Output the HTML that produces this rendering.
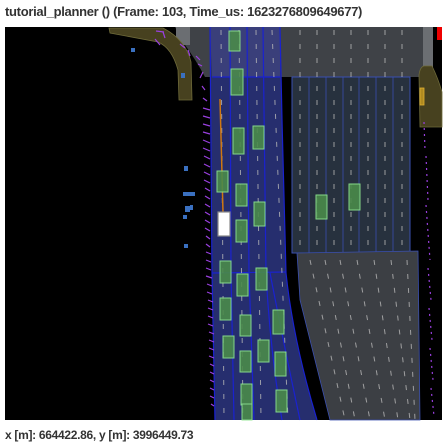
<!DOCTYPE html>
<html><head><meta charset="utf-8"><style>
html,body{margin:0;padding:0;background:#fff;width:447px;height:447px;overflow:hidden}
.t{position:absolute;left:5px;top:4px;font:bold 13px "Liberation Sans",sans-serif;color:#333;letter-spacing:-0.3px}
.b{position:absolute;left:5px;top:428px;font:bold 12px "Liberation Sans",sans-serif;color:#333;letter-spacing:-0.3px}
svg{position:absolute;left:0;top:0}
</style></head><body>
<div class="t">tutorial_planner () (Frame: 103, Time_us: 1623276809649677)</div>
<svg width="447" height="447" viewBox="0 0 447 447">
<rect x="5" y="27" width="437" height="393" fill="#000"/>
<path d="M175,27 L290,27 L290,77 L205,77 Q196,60 185,45 Z" fill="#3f4247"/>
<rect x="176" y="27" width="14" height="18" fill="#6b6e72"/>
<rect x="290" y="27" width="140" height="50" fill="#3f4247"/>
<rect x="423" y="27" width="10" height="40" fill="#6b6e72"/>
<rect x="437" y="27" width="5" height="13" fill="#e00"/>
<rect x="292" y="77" width="118" height="176" fill="#27313e" stroke="#3a4fb0" stroke-width="1"/>
<g stroke="#3a4fb0" stroke-width="0.8">
<line x1="309" y1="77" x2="309" y2="253"/><line x1="326" y1="77" x2="326" y2="253"/><line x1="343" y1="77" x2="343" y2="253"/><line x1="359" y1="77" x2="359" y2="253"/><line x1="376" y1="77" x2="376" y2="253"/><line x1="393" y1="77" x2="393" y2="253"/>
</g>
<path d="M297,253 L418,251 L420,420 L330,420 Q315,360 300,300 Z" fill="#3c3f44" stroke="#3a4fb0" stroke-width="0.8"/>
<path d="M210,27 L280,27 L282,120 L286,273 Q293,340 317,420 L215,420 L212,273 Z" fill="#262e6e"/>
<path d="M210,27 L280,27 L280,77 L212,77 Z" fill="#3a3f7a"/>
<g stroke="#1a22d0" stroke-width="1.2" fill="none">
<path d="M210,27 L212,273 L215,420"/>
<path d="M230,27 L231,273 L234,420"/>
<path d="M247,27 L249,273 L254,420"/>
<path d="M263,27 L266,273 Q270,350 282,420"/>
<path d="M280,27 L282,120 L286,273 Q293,340 317,420"/>
<path d="M270,273 Q285,350 300,420"/>
<line x1="212" y1="77" x2="280" y2="77"/>
<line x1="212" y1="273" x2="286" y2="272"/>
</g>
<g stroke="#b8b8b8" stroke-width="1" stroke-dasharray="5,9" opacity="0.8">
<line x1="221" y1="30" x2="224" y2="420"/><line x1="239" y1="30" x2="243" y2="420"/><line x1="256" y1="30" x2="261" y2="420"/><line x1="272" y1="30" x2="288" y2="420"/>
<line x1="300" y1="30" x2="300" y2="250"/><line x1="317" y1="30" x2="317" y2="250"/><line x1="334" y1="30" x2="334" y2="250"/><line x1="351" y1="30" x2="351" y2="250"/><line x1="368" y1="30" x2="368" y2="250"/><line x1="385" y1="30" x2="385" y2="250"/><line x1="402" y1="30" x2="402" y2="250"/>
<line x1="310" y1="260" x2="345" y2="420"/><line x1="325" y1="260" x2="355" y2="420"/><line x1="340" y1="260" x2="370" y2="420"/><line x1="357" y1="260" x2="385" y2="420"/><line x1="374" y1="260" x2="398" y2="420"/><line x1="391" y1="260" x2="410" y2="420"/><line x1="407" y1="260" x2="415" y2="420"/>
</g>
<path d="M109,28 L163,28 Q186,40 191,62 L192,100 L179,100 L178,70 Q172,48 158,42 L110,33 Z" fill="#47411f" stroke="#6e6a3a" stroke-width="0.8"/>
<path d="M424,66 L432,66 Q438,78 442,92 L442,127 L420,127 L419,75 Q420,67 424,66 Z" fill="#47411f" stroke="#6e6a3a" stroke-width="0.8"/>
<rect x="420" y="88" width="4" height="17" fill="#b08a20" stroke="#e0b030" stroke-width="0.8"/>
<line x1="220" y1="99" x2="223" y2="212" stroke="#d07810" stroke-width="1.5"/>
<g fill="#4a8a4a" stroke="#8fe88f" stroke-width="1" opacity="0.9">
<rect x="229" y="31" width="11" height="20"/><rect x="231" y="69" width="12" height="26"/><rect x="233" y="128" width="11" height="26"/><rect x="253" y="126" width="11" height="23"/>
<rect x="217" y="171" width="11" height="21"/><rect x="236" y="184" width="11" height="22"/><rect x="254" y="202" width="11" height="24"/><rect x="236" y="220" width="11" height="22"/>
<rect x="316" y="195" width="11" height="24"/><rect x="349" y="184" width="11" height="26"/>
<rect x="220" y="261" width="11" height="22"/><rect x="237" y="274" width="11" height="22"/><rect x="256" y="268" width="11" height="22"/>
<rect x="220" y="298" width="11" height="22"/><rect x="240" y="315" width="11" height="21"/><rect x="273" y="310" width="11" height="24"/>
<rect x="223" y="336" width="11" height="22"/><rect x="240" y="351" width="11" height="21"/><rect x="258" y="340" width="11" height="22"/><rect x="275" y="352" width="11" height="24"/>
<rect x="241" y="384" width="11" height="21"/><rect x="276" y="390" width="11" height="22"/><rect x="242" y="404" width="10" height="16"/>
</g>
<rect x="218" y="212" width="12" height="24" fill="#fff" stroke="#888" stroke-width="1.2"/>
<g stroke="#9a40e0" stroke-width="1.2" fill="#9a40e0">
<line x1="156" y1="31" x2="164" y2="32"/><line x1="163" y1="32" x2="165" y2="38"/><line x1="155" y1="39" x2="160" y2="45"/><line x1="180" y1="44" x2="185" y2="48"/><line x1="188" y1="50" x2="190" y2="56"/><line x1="196" y1="56" x2="200" y2="60"/><line x1="198" y1="64" x2="202" y2="66"/><line x1="203" y1="72" x2="200" y2="78"/>
<line x1="202" y1="86" x2="205" y2="90"/><line x1="203" y1="98" x2="207" y2="101"/>
<line x1="203" y1="108" x2="210" y2="110"/><line x1="203" y1="116" x2="210" y2="118"/><line x1="203" y1="124" x2="210" y2="126"/><line x1="203" y1="132" x2="210" y2="134"/><line x1="203" y1="140" x2="210" y2="143"/><line x1="203" y1="148" x2="210" y2="151"/><line x1="204" y1="156" x2="210" y2="159"/><line x1="204" y1="164" x2="210" y2="167"/><line x1="204" y1="172" x2="210" y2="175"/><line x1="204" y1="180" x2="210" y2="183"/><line x1="205" y1="188" x2="210" y2="191"/><line x1="205" y1="196" x2="210" y2="199"/><line x1="205" y1="204" x2="210" y2="207"/><line x1="205" y1="212" x2="210" y2="215"/><line x1="205" y1="220" x2="210" y2="223"/><line x1="205" y1="228" x2="210" y2="231"/><line x1="206" y1="236" x2="210" y2="239"/><line x1="206" y1="244" x2="210" y2="247"/><line x1="206" y1="252" x2="211" y2="254"/><line x1="206" y1="260" x2="211" y2="262"/><line x1="206" y1="268" x2="211" y2="270"/><line x1="206" y1="276" x2="212" y2="278"/><line x1="207" y1="284" x2="212" y2="286"/><line x1="207" y1="292" x2="212" y2="294"/><line x1="208" y1="300" x2="213" y2="302"/><line x1="208" y1="308" x2="213" y2="310"/><line x1="208" y1="316" x2="213" y2="318"/><line x1="208" y1="324" x2="213" y2="326"/><line x1="209" y1="332" x2="214" y2="334"/><line x1="209" y1="340" x2="214" y2="342"/><line x1="209" y1="348" x2="214" y2="350"/><line x1="209" y1="356" x2="214" y2="358"/><line x1="210" y1="364" x2="214" y2="366"/><line x1="210" y1="372" x2="214" y2="374"/><line x1="210" y1="380" x2="214" y2="382"/><line x1="210" y1="388" x2="214" y2="390"/><line x1="210" y1="396" x2="214" y2="398"/><line x1="211" y1="404" x2="214" y2="406"/>
</g>
<g stroke="#9a40e0" stroke-width="1.2" stroke-dasharray="2,4">
<line x1="424" y1="122" x2="425" y2="150"/><line x1="426" y1="156" x2="428" y2="200"/>
<line x1="426" y1="205" x2="430" y2="260"/><line x1="428" y1="268" x2="431" y2="300"/><line x1="429" y1="308" x2="432" y2="340"/><line x1="430" y1="348" x2="433" y2="380"/><line x1="431" y1="388" x2="434" y2="416"/>
</g>
<g fill="#3a70c0">
<rect x="131" y="48" width="4" height="4"/><rect x="181" y="73" width="4" height="5"/>
<rect x="184" y="166" width="4" height="5"/><rect x="183" y="192" width="12" height="4"/><rect x="185" y="206" width="5" height="6"/><rect x="190" y="205" width="3" height="5"/><rect x="183" y="215" width="4" height="4"/><rect x="184" y="244" width="4" height="4"/>
</g>
</svg>
<div class="b">x [m]: 664422.86, y [m]: 3996449.73</div>
</body></html>
